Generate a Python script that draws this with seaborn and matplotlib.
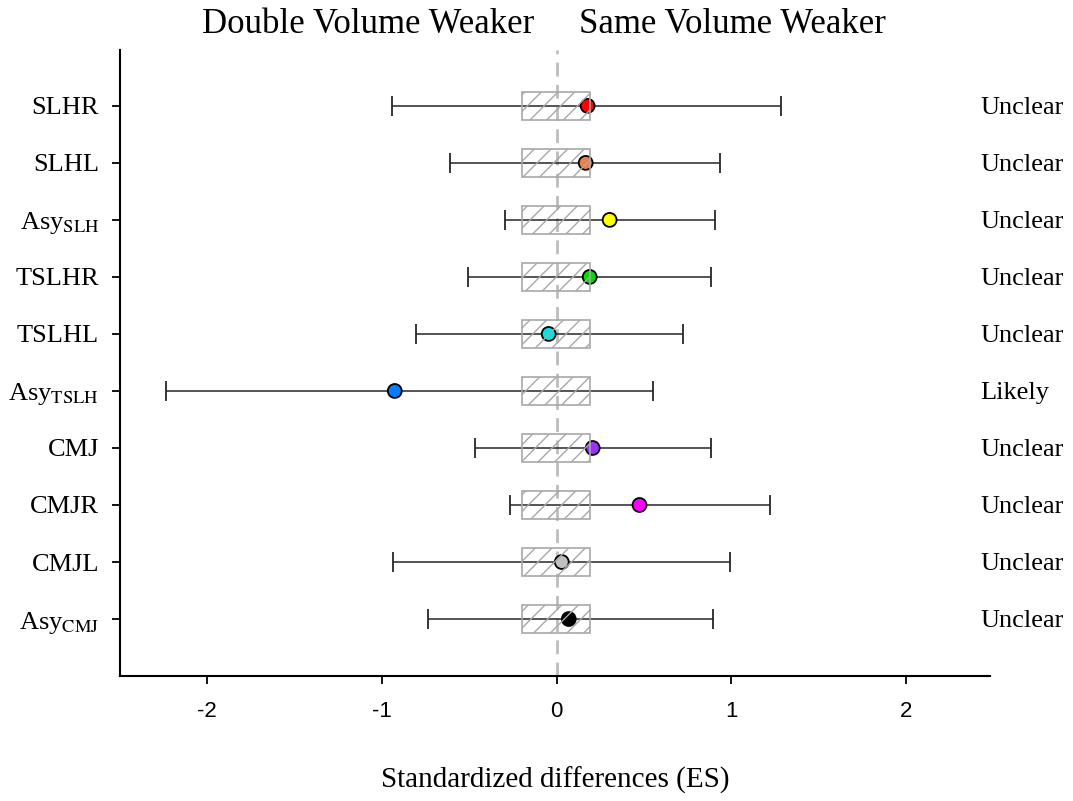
import matplotlib
matplotlib.use('Agg')

from matplotlib import pyplot as plt
import pandas as pd
import seaborn as sns


MEASURES = [
    'SLHR', 'SLHL', r'Asy$_{\mathrm{SLH}}$', 'TSLHR', 'TSLHL',
    r'Asy$_{\mathrm{TSLH}}$', 'CMJ', 'CMJR', 'CMJL', r'Asy$_{\mathrm{CMJ}}$',
]
ES_MEAN = [0.177, 0.166, 0.303, 0.189, -0.046, -0.927, 0.206, 0.474, 0.029, 0.069]
CI_LOW = [-0.945, -0.611, -0.297, -0.507, -0.806, -2.236, -0.465, -0.269, -0.939, -0.739]
CI_HIGH = [1.284, 0.937, 0.907, 0.886, 0.724, 0.549, 0.886, 1.223, 0.990, 0.895]
INFERENCE = ['Unclear', 'Unclear', 'Unclear', 'Unclear', 'Unclear',
             'Likely', 'Unclear', 'Unclear', 'Unclear', 'Unclear']
POINT_COLORS = ['#ff0000', '#e8804a', '#ffff00', '#00e000', '#00e5e5',
                '#0a7aff', '#9b30ff', '#ff00ff', '#c0c0c0', '#000000']
SWC_LOW = -0.2
SWC_HIGH = 0.19

X_TICKS = [-2, -1, 0, 1, 2]


def build_frame():
    return pd.DataFrame({
        'measure': MEASURES,
        'pos': range(len(MEASURES)),
        'es': ES_MEAN,
        'low': CI_LOW,
        'high': CI_HIGH,
        'inference': INFERENCE,
    })


def create_figure(df):
    sns.set_theme(style='ticks')
    plt.rcParams['font.family'] = ['Liberation Sans', 'DejaVu Sans']
    plt.rcParams['mathtext.fontset'] = 'stix'
    plt.rcParams['text.color'] = 'black'
    plt.rcParams['axes.labelcolor'] = 'black'
    plt.rcParams['hatch.color'] = '#a8a8a8'
    plt.rcParams['hatch.linewidth'] = 1.0

    fig = plt.figure(figsize=(10.73, 8.01), dpi=100)
    ax = fig.add_axes([0.1118, 0.156, 0.8108, 0.7816])

    # zero line
    ax.axvline(0, color='#bdbdbd', lw=2, ls=(0, (5, 3)), zorder=0)

    # confidence intervals
    ax.errorbar(df['es'], df['pos'],
                xerr=[df['es'] - df['low'], df['high'] - df['es']],
                fmt='none', ecolor='#262626', elinewidth=1.1,
                capsize=7, capthick=1.3, zorder=1)

    # points
    sns.scatterplot(data=df, x='es', y='pos', hue='measure',
                    palette=POINT_COLORS, s=100, edgecolor='black',
                    linewidth=1.3, legend=False, zorder=3, ax=ax)

    # smallest worthwhile change boxes
    ax.barh(df['pos'], SWC_HIGH - SWC_LOW, left=SWC_LOW, height=0.48,
            fill=False, edgecolor='#a8a8a8', hatch='//', linewidth=1.2,
            zorder=4)

    ax.set_xlim(-2.5, 2.48)
    ax.set_ylim(len(MEASURES) - 0.0, -0.98)
    ax.set_xticks(X_TICKS)
    ax.set_xticklabels([str(t) for t in X_TICKS], fontsize=16,
                       family=['Liberation Sans'])
    ax.set_yticks(df['pos'])
    ax.set_yticklabels(df['measure'], fontsize=19,
                       family=['Liberation Serif'])
    ax.tick_params(axis='x', length=6, width=1.3, pad=12, colors='black')
    ax.tick_params(axis='y', length=6, width=1.3, pad=9, colors='black')

    sns.despine(ax=ax)
    for side in ('left', 'bottom'):
        ax.spines[side].set_linewidth(1.5)
        ax.spines[side].set_color('black')

    ax.set_ylabel('')
    ax.set_xlabel('Standardized differences (ES)', fontsize=21,
                  family=['Liberation Serif'], labelpad=32)

    return fig, ax


def add_texts(ax, df):
    for pos, txt in zip(df['pos'], df['inference']):
        ax.text(2.423, pos + 0.04, txt, fontsize=19,
                family=['Liberation Serif'],
                ha='left', va='center', clip_on=False)

    trans = ax.get_xaxis_transform()
    ax.text(-0.13, 1.04, 'Double Volume Weaker', transform=trans,
            fontsize=25, family=['Liberation Serif'], ha='right', va='center')
    ax.text(0.126, 1.04, 'Same Volume Weaker', transform=trans,
            fontsize=25, family=['Liberation Serif'], ha='left', va='center')


def run():
    df = build_frame()
    fig, ax = create_figure(df)
    add_texts(ax, df)
    fig.savefig('out.png', dpi=100)


if __name__ == '__main__':
    run()
